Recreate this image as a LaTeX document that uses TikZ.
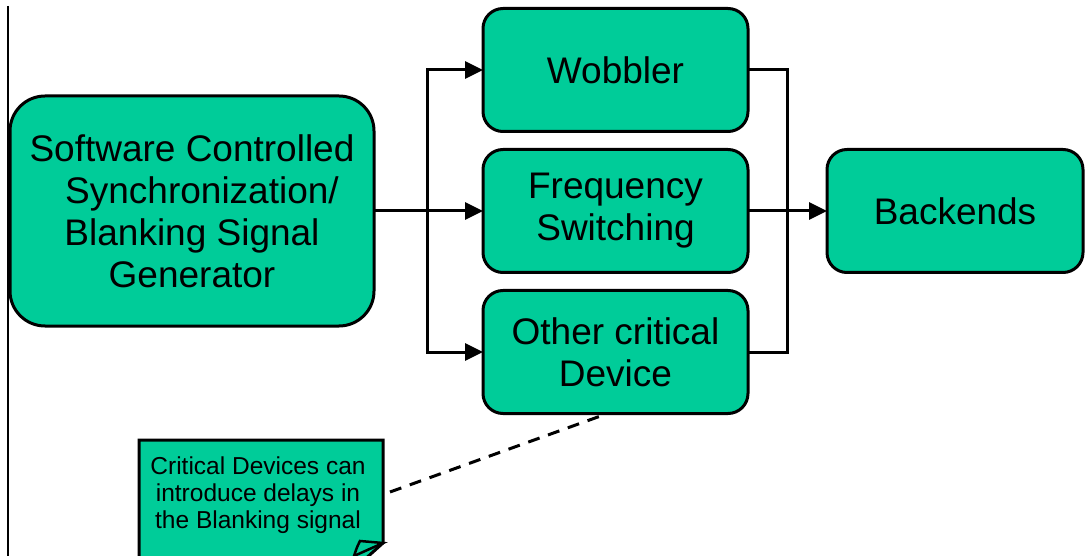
\documentclass[tikz,border=0pt]{standalone}
\usepackage{fontspec}
\setmainfont{Liberation Sans}
\usetikzlibrary{positioning,arrows.meta,calc}
\definecolor{boxgreen}{HTML}{00CC99}

\begin{document}
\begin{tikzpicture}[x=1pt,y=-1pt,
  block/.style={draw,line width=3pt,fill=boxgreen,rounded corners=20pt,
    align=center,inner sep=0pt,outer sep=0pt,
    minimum width=265pt,minimum height=123pt,
    font=\fontsize{37}{42}\selectfont},
  bigblock/.style={block,rounded corners=35pt,minimum width=364pt,minimum height=230pt},
  arr/.style={line width=3pt,-{Triangle[length=18pt,width=17pt]}},
  wire/.style={line width=3pt},
  notebox/.style={draw,line width=3pt,fill=boxgreen,line join=miter},
  notetext/.style={align=center,inner sep=0pt,font=\fontsize{24.5}{27}\selectfont},
  dashline/.style={line width=3pt,dash pattern=on 12pt off 9pt}]

  \useasboundingbox (0,0) rectangle (1085,556);
  \draw[line width=1.2pt] (8,6) -- (8,556);

  % Nodes

  \node[bigblock] (gen) at (192,211) {Software Controlled\\\hspace*{20pt}Synchronization/\\Blanking Signal\\Generator} ;
  \node[block, right=109pt of gen] (freq) {Frequency\\Switching} ; %
  \node[block, above=18pt of freq] (wob) {Wobbler} ; %
  \node[block, below=18pt of freq] (other) {Other critical\\Device} ; %
  \node[block, right=79pt of freq, minimum width=256pt] (back) {Backends} ; %

  % Note

  \draw[notebox] (139,440) -- (383,440) -- (383,543) -- (353,570) -- (139,570) -- cycle;
  \draw[notebox,line width=2.5pt] (383,543) -- (360,541) .. controls (357,547) .. (354,556) -- cycle;
  \node[notetext] (note) at (258,495) {Critical Devices can\\introduce delays in\\the Blanking signal} ;
  \coordinate (noteend) at (390,492) ;

  % Edges

  \coordinate (split) at ($(gen.east)!0.49!(freq.west)$) ;
  \coordinate (join) at ($(freq.east)!0.5!(back.west)$) ;
  \draw[arr] (gen.east) -- (freq.west) ; %
  \draw[arr] (split) |- (wob.west) ; %
  \draw[arr] (split) |- (other.west) ; %
  \draw[wire] (wob.east) -| (join) |- (other.east) ; %
  \draw[arr] (freq.east) -- (back.west) ; %
  \draw[dashline] (noteend) -- ([xshift=-8pt]other.south) ; %

\end{tikzpicture}
\end{document}
